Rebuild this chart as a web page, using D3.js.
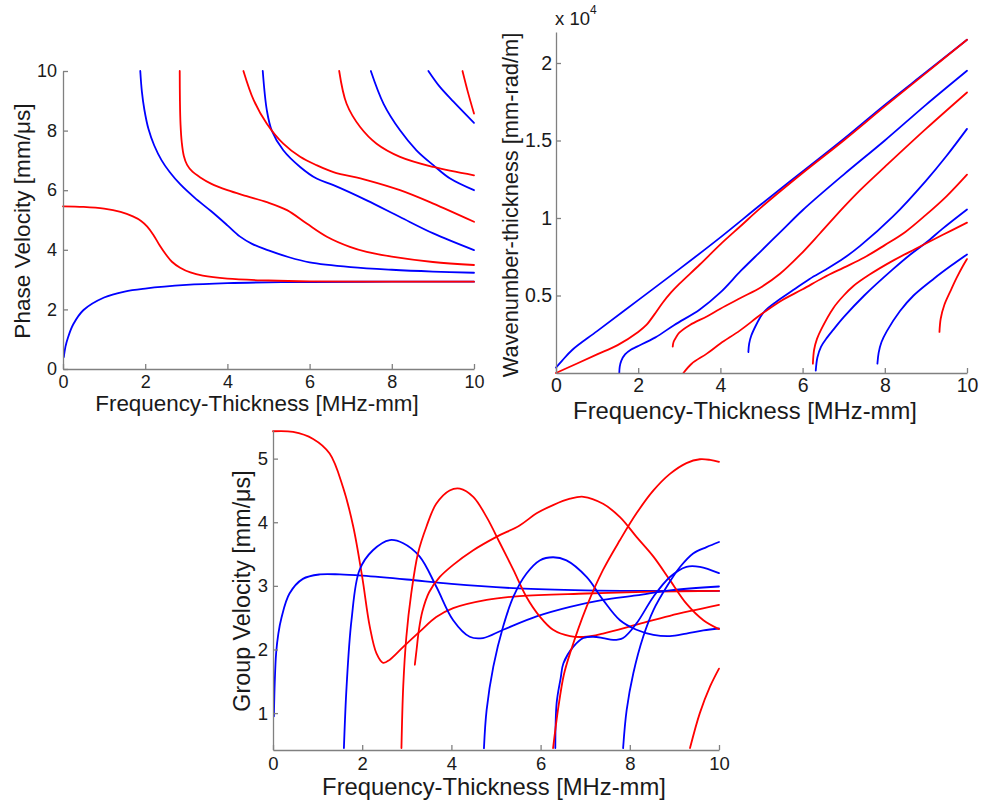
<!DOCTYPE html>
<html>
<head>
<meta charset="utf-8">
<script src="https://d3js.org/d3.v7.min.js"></script>
<style>
  body { margin: 0; background: #ffffff; }
  svg text { font-family: "Liberation Sans", Arial, sans-serif; fill: #1a1a1a; }
  .axis path, .axis line { stroke: #808080; stroke-width: 1.3; fill: none; }
  .mode { fill: none; stroke-width: 1.8; stroke-linejoin: round; stroke-linecap: round; }
</style>
</head>
<body>
<svg id="chart"></svg>
<script>
// frequency-thickness ticks shared by all three panels
let xTicks = [0, 2, 4, 6, 8, 10];

// ---- phase velocity [mm/us] vs frequency-thickness [MHz-mm]
let phaseA0 = [[0.02,0.4],[0.06,0.75],[0.12,1.05],[0.25,1.5],[0.5,1.98],[1,2.4],[1.5,2.6],[2,2.7],[3,2.82],[4,2.88],[5,2.91],[6,2.92],[8,2.93],[10,2.93]];
let phaseS0 = [[0,5.46],[0.5,5.44],[1,5.38],[1.4,5.27],[1.7,5.12],[1.9,4.97],[2.05,4.78],[2.2,4.5],[2.35,4.15],[2.5,3.85],[2.65,3.6],[2.85,3.4],[3.1,3.24],[3.4,3.13],[4,3.03],[5,2.97],[6,2.94],[8,2.93],[10,2.93]];
let phaseA1 = [[1.88,10],[1.92,9.3],[1.98,8.7],[2.08,8.05],[2.22,7.5],[2.4,7.0],[2.6,6.6],[2.85,6.2],[3.2,5.75],[3.6,5.3],[4,4.82],[4.3,4.45],[4.6,4.2],[5,3.98],[5.5,3.75],[6,3.58],[7,3.42],[8,3.33],[9,3.27],[10,3.23]];
let phaseS1 = [[2.84,10],[2.845,9],[2.86,8.2],[2.89,7.6],[2.94,7.15],[3.02,6.85],[3.15,6.62],[3.35,6.42],[3.6,6.22],[4,6.0],[4.47,5.8],[4.96,5.6],[5.45,5.33],[5.93,4.88],[6.42,4.44],[6.98,4.1],[7.39,3.93],[8,3.77],[9,3.59],[10,3.49]];
let phaseS2 = [[4.39,10],[4.64,9.02],[4.96,8.23],[5.36,7.56],[5.77,7.12],[6.17,6.84],[6.58,6.61],[7.39,6.34],[8.2,6.0],[9.01,5.55],[10,4.94]];
let phaseA2 = [[4.86,10],[4.96,8.68],[5.08,8.0],[5.36,7.34],[5.77,6.78],[6.17,6.39],[6.58,6.17],[7.39,5.66],[8.2,5.1],[9.01,4.55],[10,3.99]];
let phaseS3 = [[6.72,10],[6.9,8.9],[7.23,8.12],[7.63,7.56],[8.2,7.12],[9.01,6.78],[10,6.5]];
let phaseA3 = [[7.49,10],[7.8,8.9],[8.2,8.01],[8.6,7.34],[9.01,6.84],[9.42,6.39],[10,6.0]];
let phaseA4 = [[8.89,10],[9.15,9.5],[9.5,8.97],[10,8.26]];
let phaseS4 = [[9.72,10],[9.85,9.3],[10,8.57]];
let phaseTicks = [0, 2, 4, 6, 8, 10];

// ---- wavenumber-thickness [x 10^4 mm-rad/m]
let waveA0 = [[0,0.035],[0.15,0.08],[0.4,0.15],[1,0.27],[2,0.47],[3,0.67],[4,0.875],[5,1.09],[6,1.3],[7,1.51],[8,1.73],[9,1.94],[10,2.15]];
let waveS0 = [[0,0],[0.5,0.06],[1,0.12],[1.5,0.18],[2,0.265],[2.2,0.31],[2.4,0.38],[2.6,0.455],[2.8,0.52],[3,0.575],[3.5,0.7],[4,0.83],[4.5,0.95],[5,1.07],[6,1.29],[7,1.5],[8,1.72],[9,1.935],[10,2.15]];
let waveA1 = [[1.54,0],[1.55,0.04],[1.59,0.08],[1.68,0.12],[1.82,0.15],[1.97,0.17],[2.42,0.23],[2.88,0.31],[3.5,0.41],[4,0.52],[4.5,0.66],[5,0.79],[5.5,0.92],[6,1.05],[7,1.28],[8,1.5],[9,1.73],[10,1.95]];
let waveS1 = [[2.84,0.17],[2.86,0.2],[2.92,0.23],[3.0,0.26],[3.26,0.31],[3.67,0.365],[4,0.415],[4.5,0.485],[5,0.555],[5.45,0.64],[5.93,0.76],[6.42,0.9],[7,1.07],[7.4,1.18],[8,1.33],[9,1.575],[10,1.81]];
let waveS2 = [[3.1,0],[3.3,0.06],[3.67,0.125],[4,0.19],[4.48,0.275],[5,0.38],[5.5,0.47],[6,0.54],[6.5,0.615],[7,0.68],[7.5,0.745],[8,0.825],[8.5,0.91],[9,1.02],[9.5,1.14],[10,1.28]];
let waveA2 = [[4.68,0.135],[4.7,0.19],[4.75,0.24],[4.85,0.3],[4.96,0.355],[5.08,0.4],[5.36,0.46],[5.77,0.535],[6.17,0.607],[6.58,0.67],[7,0.74],[7.4,0.82],[8.2,1.01],[9,1.24],[9.5,1.4],[10,1.575]];
let waveA3 = [[6.32,0.015],[6.36,0.1],[6.45,0.17],[6.6,0.23],[6.75,0.28],[7,0.36],[7.5,0.5],[8.2,0.67],[8.6,0.76],[9,0.84],[9.4,0.93],[10,1.055]];
let waveS3 = [[6.25,0.06],[6.28,0.15],[6.35,0.22],[6.45,0.28],[6.75,0.42],[7,0.5],[7.23,0.56],[7.63,0.635],[8.2,0.725],[8.74,0.8],[9.4,0.89],[10,0.97]];
let waveA4 = [[7.82,0.06],[7.85,0.13],[7.92,0.2],[8.05,0.27],[8.37,0.4],[8.7,0.5],[9.2,0.61],[9.6,0.69],[10,0.765]];
let waveS4 = [[9.33,0.265],[9.36,0.35],[9.45,0.44],[9.6,0.53],[9.75,0.615],[9.9,0.69],[10,0.735]];
let waveTicks = [0.5, 1, 1.5, 2];

// ---- group velocity [mm/us]
let groupA0 = [[0.02,0.95],[0.04,1.5],[0.07,1.94],[0.12,2.25],[0.19,2.5],[0.37,2.88],[0.67,3.11],[1.05,3.18],[1.5,3.18],[2,3.16],[3,3.1],[4,3.03],[5.5,2.96],[7,2.93],[8.5,2.92],[10,2.92]];
let groupS0 = [[0,5.43],[0.45,5.42],[0.9,5.31],[1.27,5.08],[1.57,4.55],[1.8,3.93],[2.0,3.14],[2.17,2.36],[2.32,1.94],[2.47,1.79],[2.62,1.84],[2.92,2.04],[3.29,2.28],[3.66,2.51],[4.04,2.65],[4.79,2.78],[5.53,2.84],[7.03,2.88],[8.53,2.91],[10,2.92]];
let groupA1 = [[1.59,0.45],[1.65,1.42],[1.76,2.46],[1.94,3.25],[2.24,3.56],[2.62,3.72],[2.92,3.67],[3.29,3.46],[3.66,2.99],[4.04,2.46],[4.41,2.2],[4.71,2.18],[5.16,2.31],[5.91,2.52],[6.66,2.67],[7.4,2.78],[8.15,2.85],[8.9,2.93],[10,2.99]];
let groupS1 = [[2.88,0.45],[2.92,1.42],[2.99,2.2],[3.1,2.88],[3.25,3.51],[3.44,3.93],[3.66,4.29],[3.96,4.5],[4.19,4.53],[4.49,4.4],[4.79,4.08],[5.09,3.67],[5.39,3.25],[5.68,2.83],[5.98,2.52],[6.28,2.31],[6.66,2.21],[7.03,2.2],[7.4,2.25],[8.15,2.39],[8.9,2.53],[10,2.7]];
let groupS2 = [[3.18,1.76],[3.22,2.0],[3.27,2.3],[3.35,2.6],[3.5,2.9],[3.74,3.14],[4.04,3.33],[4.49,3.56],[5.01,3.77],[5.53,3.95],[5.91,4.14],[6.28,4.27],[6.66,4.37],[6.96,4.4],[7.4,4.29],[7.78,4.08],[8.15,3.77],[8.53,3.46],[8.9,3.09],[9.27,2.72],[9.65,2.46],[10,2.32]];
let groupA2 = [[4.73,0.45],[4.79,1.05],[4.94,1.73],[5.16,2.36],[5.39,2.83],[5.68,3.19],[5.98,3.4],[6.28,3.45],[6.58,3.4],[7.03,3.14],[7.4,2.78],[7.78,2.46],[8.15,2.31],[8.53,2.23],[8.9,2.21],[9.27,2.25],[9.65,2.3],[10,2.33]];
let groupS3 = [[6.28,0.45],[6.4,1.1],[6.52,1.6],[6.66,1.94],[7.03,2.67],[7.4,3.25],[7.78,3.72],[8.15,4.14],[8.53,4.5],[8.9,4.76],[9.27,4.93],[9.57,4.99],[9.8,4.98],[10,4.95]];
let groupA3 = [[6.33,0.45],[6.36,1.16],[6.45,1.55],[6.51,1.78],[6.73,2.04],[6.96,2.18],[7.18,2.2],[7.4,2.18],[7.63,2.15],[7.85,2.18],[8.15,2.41],[8.53,2.83],[8.9,3.14],[9.27,3.3],[9.57,3.3],[10,3.2]];
let groupA4 = [[7.85,0.45],[7.93,1.05],[8.08,1.63],[8.3,2.2],[8.53,2.62],[8.83,2.99],[9.13,3.3],[9.42,3.51],[9.72,3.61],[10,3.69]];
let groupS4 = [[9.35,0.45],[9.57,1.0],[9.8,1.42],[10,1.7]];
let groupTicks = [1, 2, 3, 4, 5];

let blue = '#0000ff';
let red = '#ff0000';

// setup svg
let svg = d3.select('svg#chart');
svg.attr('width', 981);
svg.attr('height', 803);

// panel layouts (plot box + label placement)
let panels = [
  {
    box: { left: 63, right: 474, top: 71, bottom: 369 },
    yDomain: [0, 10], yTicks: phaseTicks,
    tickFont: 18, xPad: 6, yPad: 6,
    xLabel: { text: 'Frequency-Thickness [MHz-mm]', x: 257, y: 411, size: 22.4 },
    yLabel: { text: 'Phase Velocity [mm/\u03bcs]', x: 30, y: 221, size: 22.6 },
    series: [
      [phaseA0, blue], [phaseS0, red], [phaseA1, blue], [phaseS1, red],
      [phaseA2, blue], [phaseS2, red], [phaseA3, blue], [phaseS3, red],
      [phaseA4, blue], [phaseS4, red]
    ]
  },
  {
    box: { left: 556, right: 967, top: 32, bottom: 373 },
    yDomain: [0, 2.2], yTicks: waveTicks,
    tickFont: 19.5, xPad: 5, yPad: 4,
    xLabel: { text: 'Frequency-Thickness [MHz-mm]', x: 745, y: 419, size: 23.8 },
    yLabel: { text: 'Wavenumber-thickness [mm-rad/m]', x: 518, y: 205, size: 21.8 },
    series: [
      [waveA0, blue], [waveS0, red], [waveA1, blue], [waveS1, red],
      [waveA2, blue], [waveS2, red], [waveA3, blue], [waveS3, red],
      [waveA4, blue], [waveS4, red]
    ]
  },
  {
    box: { left: 273, right: 719, top: 430, bottom: 750 },
    yDomain: [0.42, 5.45], yTicks: groupTicks,
    tickFont: 18.5, xPad: 7, yPad: 5,
    xLabel: { text: 'Frequency-Thickness [MHz-mm]', x: 494, y: 795, size: 23.8 },
    yLabel: { text: 'Group Velocity [mm/\u03bcs]', x: 250, y: 591, size: 23.3 },
    series: [
      [groupA0, blue], [groupS0, red], [groupA1, blue], [groupS1, red],
      [groupA2, blue], [groupS2, red], [groupA3, blue], [groupS3, red],
      [groupA4, blue], [groupS4, red]
    ]
  }
];

panels.forEach(drawPanel);

// exponent note on the wavenumber axis
let expo = svg.append('text');
expo.attr('x', 555);
expo.attr('y', 25);
expo.style('font-size', '18.5px');
expo.text('x 10');
expo.append('tspan')
  .attr('dy', -11)
  .style('font-size', '12px')
  .text('4');

function drawPanel(p) {
  let box = p.box;
  let width = box.right - box.left;
  let height = box.bottom - box.top;

  let scale = {};
  scale.x = d3.scaleLinear().domain([0, 10]).range([0, width]);
  scale.y = d3.scaleLinear().domain(p.yDomain).range([height, 0]);

  let plot = svg.append('g');
  plot.attr('transform', translate(box.left, box.top));

  // curves
  let line = d3.line()
    .x(d => scale.x(d[0]))
    .y(d => scale.y(d[1]))
    .curve(d3.curveCatmullRom.alpha(0.5));

  p.series.forEach(function(s) {
    plot.append('path')
      .attr('class', 'mode')
      .attr('d', line(s[0]))
      .style('stroke', s[1]);
  });

  // axes, ticks pointing inward
  let axis = {};
  axis.x = d3.axisBottom(scale.x)
    .tickValues(xTicks)
    .tickFormat(d => String(d))
    .tickSizeInner(-5)
    .tickSizeOuter(0)
    .tickPadding(p.xPad);

  axis.y = d3.axisLeft(scale.y)
    .tickValues(p.yTicks)
    .tickFormat(d => String(d))
    .tickSizeInner(-5)
    .tickSizeOuter(0)
    .tickPadding(p.yPad);

  let gx = plot.append('g');
  gx.attr('class', 'axis');
  gx.attr('transform', translate(0, height));
  gx.call(axis.x);

  let gy = plot.append('g');
  gy.attr('class', 'axis');
  gy.call(axis.y);

  plot.selectAll('.axis text')
    .style('font-size', p.tickFont + 'px')
    .style('font-family', '"Liberation Sans", Arial, sans-serif')
    .style('fill', '#1a1a1a');

  // axis titles
  svg.append('text')
    .attr('x', p.xLabel.x)
    .attr('y', p.xLabel.y)
    .style('text-anchor', 'middle')
    .style('font-size', p.xLabel.size + 'px')
    .text(p.xLabel.text);

  svg.append('text')
    .attr('transform', translate(p.yLabel.x, p.yLabel.y) + ' rotate(-90)')
    .style('text-anchor', 'middle')
    .style('font-size', p.yLabel.size + 'px')
    .text(p.yLabel.text);
}

// helper method to make translating easier
function translate(x, y) {
  return 'translate(' + x + ',' + y + ')';
}
</script>
</body>
</html>
